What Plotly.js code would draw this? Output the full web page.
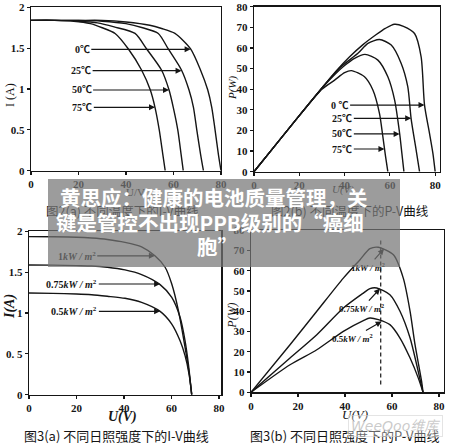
<!DOCTYPE html>
<html><head><meta charset="utf-8">
<script src="https://cdn.plot.ly/plotly-3.0.1.min.js"></script>
<style>html,body{margin:0;padding:0;background:#fff;}#chart{width:450px;height:448px;}</style>
</head><body><div id="chart"></div>
<script>
// ---------- Fig 2(a): I-V curves at different temperatures ----------
const fig2a_V_0C  = [0,10,20,30,40,50,55,60.6,67.2,71.4,74.4,76.1,77.5,78.9,80];
const fig2a_I_0C  = [1.84,1.84,1.84,1.84,1.82,1.78,1.74,1.68,1.49,1.23,0.99,0.776,0.50,0.20,0];
const fig2a_V_25C = [0,10,20,30,40,47,53.6,57.8,63.4,66.5,68.4,69.8,71.4,72.6];
const fig2a_I_25C = [1.84,1.84,1.84,1.83,1.80,1.75,1.68,1.49,1.23,0.99,0.776,0.50,0.20,0];
const fig2a_V_50C = [0,10,20,28,35,43.8,48.7,55,58.1,59.9,61.8,63.2,64.1];
const fig2a_I_50C = [1.84,1.84,1.83,1.81,1.76,1.68,1.49,1.23,0.99,0.776,0.50,0.20,0];
const fig2a_V_75C = [0,10,18,25,30,35.4,41,46.6,50.2,52.2,54,55.5,56.5];
const fig2a_I_75C = [1.84,1.84,1.83,1.80,1.75,1.68,1.49,1.23,0.99,0.776,0.50,0.20,0];
const fig2a_labels = ["0℃","25℃","50℃","75℃"];
const fig2a_xticks = [0,20,40,60,80];
const fig2a_yticks = [0,0.5,1,1.5,2];
const fig2a_yticktext = ["0","0.5","1","1.5","2"];

// ---------- Fig 2(b): P-V curves at different temperatures ----------
const fig2b_V_0C  = [0,10,20,30,36,42,48,54,58,62,66,70.9,73.8,75.3,77.5,79,80];
const fig2b_P_0C  = [0,13.6,27.2,40.6,48.5,55.5,61.5,66.5,69.5,71.5,70.5,67,55.7,32.3,18.6,8.9,0];
const fig2b_V_25C = [0,10,20,30,38,45.9,50.3,55.4,60.6,65,67.9,69.4,71.6,73.1];
const fig2b_P_25C = [0,13.6,27.2,40.6,50.5,57.4,62.2,64.1,61.4,52.5,41.2,25.5,10.5,0];
const fig2b_V_50C = [0,10,20,30,36,40,44.4,49,54.7,59.1,62.1,64.3,65.3,66.2];
const fig2b_P_50C = [0,13.6,27.2,40.5,47.5,51.5,55,56.9,54.1,46,34.7,18.6,8.9,0];
const fig2b_V_75C = [0,10,20,30,35.6,40,43,48.8,52.5,55.4,56.9,58.1,59.1];
const fig2b_P_75C = [0,13.6,27.2,40,44.4,48,49,46,39.6,28.3,17,7.3,0];
const fig2b_labels = ["0 ℃","25℃","50℃","75℃"];
const fig2b_xticks = [0,20,40,60,80];
const fig2b_yticks = [0,10,20,30,40,50,60,70,80];

// ---------- Fig 3(a): I-V curves at different irradiance ----------
const fig3a_V_1kW   = [0,10,20,26.4,33,40.4,47.4,53,57.3,60.1,62.9,65.7,67.5,68.5];
const fig3a_I_1kW   = [1.935,1.933,1.928,1.918,1.90,1.865,1.81,1.70,1.56,1.355,1.03,0.58,0.25,0];
const fig3a_V_075kW = [0,10,20,26.4,33,40.4,47.4,55.2,60.1,63.6,65.7,67.1,68.5];
const fig3a_I_075kW = [1.588,1.586,1.58,1.576,1.56,1.527,1.47,1.347,1.19,0.947,0.66,0.376,0];
const fig3a_V_05kW  = [0,10,20,26.4,33,40.4,47.4,55.2,60.1,63.6,65.7,67.4,68.5];
const fig3a_I_05kW  = [1.245,1.24,1.233,1.224,1.205,1.18,1.13,1.02,0.865,0.66,0.478,0.25,0];
const fig3a_labels = ["1<i>kW / m</i><sup>2</sup>","0.75<i>kW / m</i><sup>2</sup>","0.5<i>kW / m</i><sup>2</sup>"];
const fig3a_xticks = [0,20,40,60,80];
const fig3a_yticks = [0,0.5,1,1.5,2];
const fig3a_yticktext = ["0","0. 5","1","1.5","2"];

// ---------- Fig 3(b): P-V curves at different irradiance ----------
const fig3b_V_1kW   = [0,16.6,28,39.3,46.4,50.6,54.2,60.6,64.8,67.7,69.8,72.6,73.2];
const fig3b_P_1kW   = [0,23.5,40,56.4,65.5,70.9,71.6,67.9,56.4,40,23.5,5.4,0];
const fig3b_V_075kW = [0,16.6,28,39.3,47.8,50.6,53.5,59.1,63.4,67.7,70.5,73.2];
const fig3b_P_075kW = [0,16.9,28.4,41.6,49,51.2,51.5,48.2,40,26.8,13.6,0];
const fig3b_V_05kW  = [0,16.6,28,39.3,47.8,50.6,54.2,59.1,63.4,67.7,71.2,73.2];
const fig3b_P_05kW  = [0,13.6,21,30.1,35.4,36.7,35.9,33.4,26.8,16.9,7,0];
const fig3b_mpp_V = [55.2,55.2];
const fig3b_mpp_P = [3.8,76];
const fig3b_labels = ["1<i>kW / m</i><sup>2</sup>","0.75<i>kW / m</i><sup>2</sup>","0.5<i>kW / m</i><sup>2</sup>"];
const fig3b_xticks = [0,20,40,60,80];
const fig3b_yticks = [0,10,20,30,40,50,60,70,80];

// ---------- captions and overlay ----------
const captions = ["图2(a) 不同温度下的I-V曲线","图2(b) 不同温度下的P-V曲线","图3(a) 不同日照强度下的I-V曲线","图3(b) 不同日照强度下的P-V曲线"];
const bannerLines = ["黄思应：健康的电池质量管理，关","键是管控不出现PPB级别的“癌细","胞”"];
const watermark = "WeeQoo维库";

// ---------- rendering ----------
const W = 450, H = 448;
const px = x => x / W;
const py = y => 1 - y / H;
const INK = '#151515';
const serif = 'Liberation Serif, Noto Sans CJK SC, serif';

function curve(x, y, xa, ya) {
  return {type:'scatter', mode:'lines', x:x, y:y, xaxis:xa, yaxis:ya,
    line:{color:INK, width:1.4, shape:'spline', smoothing:0.7},
    hoverinfo:'skip', showlegend:false};
}

const mppLine = {type:'scatter', mode:'lines', x:fig3b_mpp_V, y:fig3b_mpp_P, xaxis:'x4', yaxis:'y4',
  line:{color:INK, width:1.2, dash:'4px,3px'}, hoverinfo:'skip', showlegend:false};

const traces = [
  curve(fig2a_V_0C, fig2a_I_0C, 'x', 'y'),
  curve(fig2a_V_25C, fig2a_I_25C, 'x', 'y'),
  curve(fig2a_V_50C, fig2a_I_50C, 'x', 'y'),
  curve(fig2a_V_75C, fig2a_I_75C, 'x', 'y'),
  curve(fig2b_V_0C, fig2b_P_0C, 'x2', 'y2'),
  curve(fig2b_V_25C, fig2b_P_25C, 'x2', 'y2'),
  curve(fig2b_V_50C, fig2b_P_50C, 'x2', 'y2'),
  curve(fig2b_V_75C, fig2b_P_75C, 'x2', 'y2'),
  curve(fig3a_V_1kW, fig3a_I_1kW, 'x3', 'y3'),
  curve(fig3a_V_075kW, fig3a_I_075kW, 'x3', 'y3'),
  curve(fig3a_V_05kW, fig3a_I_05kW, 'x3', 'y3'),
  curve(fig3b_V_1kW, fig3b_P_1kW, 'x4', 'y4'),
  curve(fig3b_V_075kW, fig3b_P_075kW, 'x4', 'y4'),
  curve(fig3b_V_05kW, fig3b_P_05kW, 'x4', 'y4'),
  mppLine
];

function axis(domain, range, tickvals, ticktext, anchor) {
  const a = {domain:domain, range:range, anchor:anchor, tickmode:'array', tickvals:tickvals,
    showline:true, mirror:true, linecolor:INK, linewidth:1.4, ticks:'outside', ticklen:3,
    tickwidth:1.2, tickcolor:INK, showgrid:false, zeroline:false, fixedrange:true,
    tickfont:{family:'Liberation Serif, serif', size:11, color:INK, weight:'bold'}};
  if (ticktext) a.ticktext = ticktext;
  return a;
}

const annotations = [];
function label(xr, yr, tipX, tipY, txtX, txtY, text, size) {
  annotations.push({xref:xr, yref:yr, axref:xr, ayref:yr, x:tipX, y:tipY, ax:txtX, ay:txtY,
    text:text, showarrow:true, arrowhead:2, arrowsize:1, arrowwidth:1.2, arrowcolor:INK, standoff:0,
    font:{family:serif, size:size, color:INK, weight:'bold'}});
}
function ptext(x, y, text, size, opts) {
  annotations.push(Object.assign({xref:'paper', yref:'paper', x:px(x), y:py(y), xanchor:'center', yanchor:'middle',
    text:text, showarrow:false, font:{family:serif, size:size, color:INK}}, opts||{}));
}

// Fig 2(a) labels
label('x','y', 67.2, 1.486, 21.6, 1.486, fig2a_labels[0], 10);
label('x','y', 63.4, 1.224, 21.1, 1.224, fig2a_labels[1], 10);
label('x','y', 58.1, 0.988, 21.3, 0.988, fig2a_labels[2], 10);
label('x','y', 52.2, 0.776, 21.6, 0.776, fig2a_labels[3], 10);
// Fig 2(b) labels
label('x2','y2', 75.3, 32.3, 37.8, 32.3, fig2b_labels[0], 10);
label('x2','y2', 69.4, 25.9, 39.0, 25.9, fig2b_labels[1], 10);
label('x2','y2', 64.3, 18.3, 39.0, 18.3, fig2b_labels[2], 10);
label('x2','y2', 57.6, 11.0, 39.0, 11.0, fig2b_labels[3], 10);
// Fig 3(a) labels
label('x3','y3', 53.0, 1.70, 20.1, 1.70, fig3a_labels[0], 10);
label('x3','y3', 55.2, 1.355, 18.0, 1.355, fig3a_labels[1], 10);
label('x3','y3', 55.2, 1.02, 19.1, 1.02, fig3a_labels[2], 10);
// Fig 3(b) labels
label('x4','y4', 56.6, 70.9, 49.8, 61.9, fig3b_labels[0], 9);
label('x4','y4', 54.9, 51.2, 47.2, 41.6, fig3b_labels[1], 9);
label('x4','y4', 55.6, 35.0, 43.4, 26.8, fig3b_labels[2], 9);

// axis titles
ptext(10, 95, 'I (A)', 12, {textangle:-90});
ptext(135, 192, 'U/V', 11);
ptext(233, 88, '<i>P(W)</i>', 11, {textangle:-90});
ptext(343, 189, '<i>U(V)</i>', 11);
ptext(10, 307, '<i>I(A)</i>', 14, {textangle:-90, font:{family:serif, size:14, color:INK, weight:'bold'}});
ptext(123, 416.7, '<i>U(V)</i>', 14, {font:{family:serif, size:14, color:INK, weight:'bold'}});
ptext(232, 315.7, '<i>P(W)</i>', 12, {textangle:-90});
ptext(355, 414, '<i>U(V)</i>', 13);

// captions
const capFont = s => ({family:'Noto Sans CJK SC, serif', size:s, color:INK});
ptext(123, 210, captions[0], 12.5, {font:capFont(12.5)});
ptext(350, 210.5, captions[1], 12.5, {font:capFont(12.5)});
ptext(116, 435.7, captions[2], 13, {font:capFont(13)});
ptext(344, 435.7, captions[3], 13, {font:capFont(13)});

// watermark
ptext(395, 426, watermark, 14, {font:{family:'DejaVu Sans, Noto Sans CJK SC', size:14, color:'rgba(185,185,185,0.75)', style:'italic'},
  bgcolor:'rgba(255,255,255,0.35)', bordercolor:'rgba(210,210,210,0.6)', borderwidth:1, borderpad:2});

// banner
annotations.push({xref:'paper', yref:'paper', x:px(224), y:py(223), xanchor:'center', yanchor:'middle',
  text:' ', showarrow:false, width:352, height:88, bgcolor:'rgba(118,118,118,0.72)', borderwidth:0, borderpad:0,
  font:{size:10}});
const bannerFont = {family:'Noto Sans CJK SC, sans-serif', size:20.5, color:'#ffffff', weight:'bold'};
ptext(213.5, 196.5, bannerLines[0], 20.5, {font:bannerFont});
ptext(210, 222, bannerLines[1], 20.5, {font:bannerFont});
ptext(217, 246, bannerLines[2], 20.5, {font:bannerFont});

const layout = {
  width:W, height:H, margin:{l:0, r:0, t:0, b:0}, paper_bgcolor:'#ffffff', plot_bgcolor:'rgba(0,0,0,0)',
  showlegend:false,
  xaxis:  axis([px(31), px(221)], [0,80], fig2a_xticks, null, 'y'),
  yaxis:  axis([py(170.7), py(7.3)], [0,2], fig2a_yticks, fig2a_yticktext, 'x'),
  xaxis2: axis([px(254), px(439.7)], [0,82], fig2b_xticks, null, 'y2'),
  yaxis2: axis([py(171.7), py(6.7)], [0,80], fig2b_yticks, null, 'x2'),
  xaxis3: axis([px(29), px(221.4)], [0,81], fig3a_xticks, null, 'y3'),
  yaxis3: axis([py(394.7), py(231.3)], [0,2], fig3a_yticks, fig3a_yticktext, 'x3'),
  xaxis4: axis([px(251), px(443.7)], [0,82], fig3b_xticks, null, 'y4'),
  yaxis4: axis([py(392.3), py(230.3)], [0,80], fig3b_yticks, null, 'x4'),
  annotations: annotations
};

Plotly.newPlot('chart', traces, layout, {staticPlot:true, displayModeBar:false});
</script>
</body></html>
